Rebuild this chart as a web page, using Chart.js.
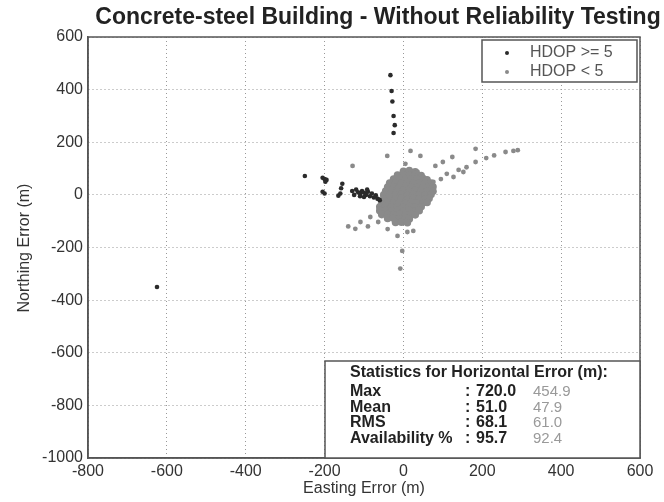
<!DOCTYPE html>
<html>
<head>
<meta charset="utf-8">
<script src="https://cdn.jsdelivr.net/npm/chart.js@4"></script>
<style>
  body { margin: 0; background: #fff; }
  #wrap { width: 664px; height: 502px; }
</style>
</head>
<body>
<div id="wrap"><canvas id="myChart" width="664" height="502"></canvas></div>
<script>
// HDOP >= 5 (dark points)
const highX = [-625, -250, -205, -200, -195, -198, -205, -200, -155, -158, -160, -165,
  -130, -120, -115, -110, -105, -100, -95, -90, -85, -80, -75, -70, -65, -60, -125, -110, -100, -92,
  -33, -30, -28, -25, -22, -25]
const highY = [-350, 72, 65, 60, 57, 50, 12, 5, 42, 25, 5, -3,
  15, 20, 10, 5, 15, 8, 0, 12, -5, 5, -10, -2, -15, -20, 0, -5, -8, 20,
  455, 395, 355, 300, 265, 235]

// HDOP < 5, the dense core round the origin
const coreX = [
  0, 15, 30,
  -15, 0, 15, 30, 45,
  -25, -10, 5, 20, 35, 50, 60,
  -35, -20, -5, 10, 25, 40, 55, 70,
  -40, -25, -10, 5, 20, 35, 50, 65, 75,
  -45, -30, -15, 0, 15, 30, 45, 60, 75,
  -50, -35, -20, -5, 10, 25, 40, 55, 70,
  -50, -35, -20, -5, 10, 25, 40, 55, 65,
  -55, -40, -25, -10, 5, 20, 35, 50, 60,
  -60, -45, -30, -15, 0, 15, 30, 45,
  -60, -45, -30, -15, 0, 15, 30, 40,
  -55, -40, -25, -10, 5, 20, 30,
  -40, -25, -10, 5, 15,
  -20, -5, 10
]
const coreY = [
  90, 92, 88,
  75, 76, 74, 77, 73,
  60, 62, 58, 61, 59, 62, 57,
  45, 46, 44, 47, 43, 46, 44, 45,
  30, 31, 29, 32, 28, 31, 29, 30, 31,
  15, 16, 14, 17, 13, 16, 14, 15, 14,
  0, 1, -1, 2, -2, 1, -1, 0, 1,
  -15, -14, -16, -13, -17, -14, -16, -15, -14,
  -30, -29, -31, -28, -32, -29, -31, -30, -29,
  -45, -44, -46, -43, -47, -44, -46, -45,
  -60, -59, -61, -58, -62, -59, -61, -60,
  -75, -74, -76, -73, -77, -74, -76,
  -90, -89, -91, -88, -92,
  -105, -104, -106
]

// HDOP < 5, the scattered points outside the core
const lowX = [
  81, 100, 124, 127, 152, 183, 183, 160, 140, 110, 95, 210, 230, 259, 279, 290,
  43, 18, 5, 36, 76,
  -129, -41,
  -122, -109, -84, -64, -15, 10, 25, -3, -8, -140, -90, -40, -66
]
const lowY = [
  110, 125, 144, 68, 87, 125, 175, 105, 95, 80, 60, 140, 150, 163, 167, 170,
  148, 167, 118, 87, 49,
  110, 148,
  -129, -103, -84, -103, -156, -141, -137, -213, -280, -120, -120, -130, -15
]

const xTicks = [-800, -600, -400, -200, 0, 200, 400, 600]
const yTicks = [-1000, -800, -600, -400, -200, 0, 200, 400, 600]

const titleText = 'Concrete-steel Building - Without Reliability Testing'
const xLabel = 'Easting Error (m)'
const yLabel = 'Northing Error (m)'

const statTitle = 'Statistics for Horizontal Error (m):'
const statNames = ['Max', 'Mean', 'RMS', 'Availability %']
const statHigh = [720.0, 51.0, 68.1, 95.7]
const statLow = [454.9, 47.9, 61.0, 92.4]

function toPoints(xs, ys) {
    const pts = []
    for (let i = 0; i < xs.length; i++) {
        pts.push({x: xs[i], y: ys[i]})
    }
    return pts
}

const FONT = '"Liberation Sans", Arial, sans-serif'

// draws the title, the box round the plot, the legend and the stats box
const extras = {
    id: 'extras',
    afterDraw(chart) {
        const ctx = chart.ctx
        const a = chart.chartArea
        ctx.save()

        ctx.fillStyle = '#222'
        ctx.font = 'bold 23px ' + FONT
        ctx.textAlign = 'center'
        ctx.textBaseline = 'middle'
        ctx.fillText(titleText, 378, 18)

        ctx.font = '16px ' + FONT
        ctx.fillStyle = '#333'
        ctx.fillText(xLabel, (a.left + a.right) / 2, 489)
        ctx.save()
        ctx.translate(25, 248)
        ctx.rotate(-Math.PI / 2)
        ctx.fillText(yLabel, 0, 0)
        ctx.restore()

        ctx.strokeStyle = '#555'
        ctx.lineWidth = 1.5
        ctx.strokeRect(a.left, a.top, a.right - a.left, a.bottom - a.top)

        // legend
        ctx.fillStyle = '#fff'
        ctx.fillRect(482, 40, 155, 42)
        ctx.strokeRect(482, 40, 155, 42)
        ctx.textAlign = 'left'
        ctx.font = '16px ' + FONT
        chart.data.datasets.forEach((ds, i) => {
            const y = 53 + i * 19
            ctx.fillStyle = ds.backgroundColor
            ctx.beginPath()
            ctx.arc(507, y, 2, 0, Math.PI * 2)
            ctx.fill()
            ctx.fillStyle = '#555'
            ctx.fillText(ds.label, 530, y)
        })

        // statistics box
        ctx.fillStyle = '#fff'
        ctx.fillRect(325, 361, a.right - 325, a.bottom - 361)
        ctx.strokeStyle = '#555'
        ctx.strokeRect(325, 361, a.right - 325, a.bottom - 361)
        ctx.fillStyle = '#222'
        ctx.font = 'bold 16px ' + FONT
        ctx.fillText(statTitle, 350, 373)
        const rows = [392, 407.5, 423, 439]
        for (let i = 0; i < statNames.length; i++) {
            ctx.fillStyle = '#222'
            ctx.font = 'bold 16px ' + FONT
            ctx.fillText(statNames[i], 350, rows[i])
            ctx.fillText(':', 465, rows[i])
            ctx.fillText(statHigh[i].toFixed(1), 476, rows[i])
            ctx.fillStyle = '#999'
            ctx.font = '15px ' + FONT
            ctx.fillText(statLow[i].toFixed(1), 533, rows[i])
        }
        ctx.restore()
    }
}

const nCore = coreX.length

const ctx = document.getElementById('myChart').getContext('2d')
const myChart = new Chart(ctx, {
    type: 'scatter',
    data: {
        datasets: [{
            label: 'HDOP >= 5',
            data: toPoints(highX, highY),
            backgroundColor: '#2b2b2b',
            pointRadius: 2.3,
            borderWidth: 0
        }, {
            label: 'HDOP < 5',
            data: toPoints(coreX, coreY).concat(toPoints(lowX, lowY)),
            backgroundColor: '#8a8a8a',
            // core points drawn bigger so they merge into one blob
            pointRadius: (c) => c.dataIndex < nCore ? 3.8 : 2.4,
            borderWidth: 0
        }]
    },
    options: {
        responsive: false,
        animation: false,
        layout: {padding: {top: 37, right: 24, left: 0, bottom: 0}},
        plugins: {
            legend: {display: false},
            tooltip: {enabled: false}
        },
        scales: {
            x: {
                min: -800, max: 600,
                afterFit: (scale) => { scale.height = 44 },
                afterBuildTicks: (scale) => { scale.ticks = xTicks.map(v => ({value: v})) },
                grid: {color: '#999', lineWidth: 1, drawTicks: false},
                border: {display: true, color: '#555', width: 1.5, dash: [1, 3]},
                ticks: {color: '#333', padding: 4, maxRotation: 0, font: {size: 16, family: FONT},
                    callback: (v) => String(v)}
            },
            y: {
                min: -1000, max: 600,
                afterFit: (scale) => { scale.width = 88 },
                afterBuildTicks: (scale) => { scale.ticks = yTicks.map(v => ({value: v})) },
                grid: {color: '#999', lineWidth: 1, drawTicks: false},
                border: {display: true, color: '#555', width: 1.5, dash: [1, 3]},
                ticks: {color: '#333', padding: 5, font: {size: 16, family: FONT},
                    callback: (v) => String(v)}
            }
        }
    },
    plugins: [extras]
})
</script>
</body>
</html>
